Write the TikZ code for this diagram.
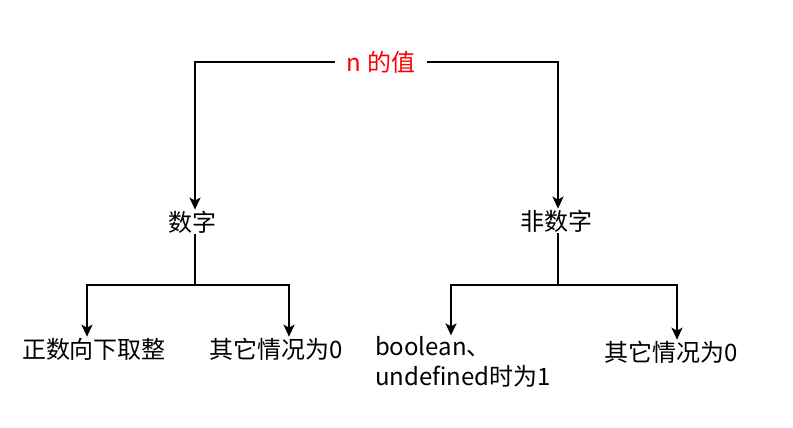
\documentclass[tikz,border=0pt]{standalone}
\usepackage{fontspec}
\setmainfont{Noto Sans CJK SC}
\usepackage{tikz}
\usetikzlibrary{arrows.meta}

\begin{document}
\begin{tikzpicture}[x=1pt,y=-1pt,
  txt/.style={inner sep=1pt,font=\fontsize{24}{30}\selectfont},
  link/.style={line width=2.2pt,-{Stealth[length=12pt,width=11pt,inset=3pt]}}]
  \useasboundingbox (0,0) rectangle (793,428);

  \node[txt,text=red,inner xsep=12pt] at (381,62) (root) {n 的值};

  \node[txt] at (192,222) (num) {数字};
  \node[txt] at (556,221) (nonnum) {非数字};

  \draw[link] (root.west) -| ([xshift=3pt]num.north);
  \draw[link] (root.east) -| ([xshift=2pt]nonnum.north);

  \coordinate (numfork) at (195,285);
  \coordinate (nonfork) at (558,285);

  \node[txt] at (94,349) (floor) {正数向下取整};
  \node[txt] at (276,349) (zeroa) {其它情况为0};
  \node[txt,align=left] at (463,362) (bool) {boolean、\\undefined时为1};
  \node[txt] at (671,352) (zerob) {其它情况为0};

  \draw[line width=2.2pt] ([xshift=3pt]num.south) -- (numfork);
  \draw[link] (numfork) -| ([xshift=-7pt]floor.north);
  \draw[link] (numfork) -| ([xshift=13pt]zeroa.north);

  \draw[line width=2.2pt] ([xshift=2pt]nonnum.south) -- (nonfork);
  \draw[link] (nonfork) -| ([xshift=-12pt]bool.north);
  \draw[link] (nonfork) -| ([xshift=6pt]zerob.north);

\end{tikzpicture}
\end{document}
